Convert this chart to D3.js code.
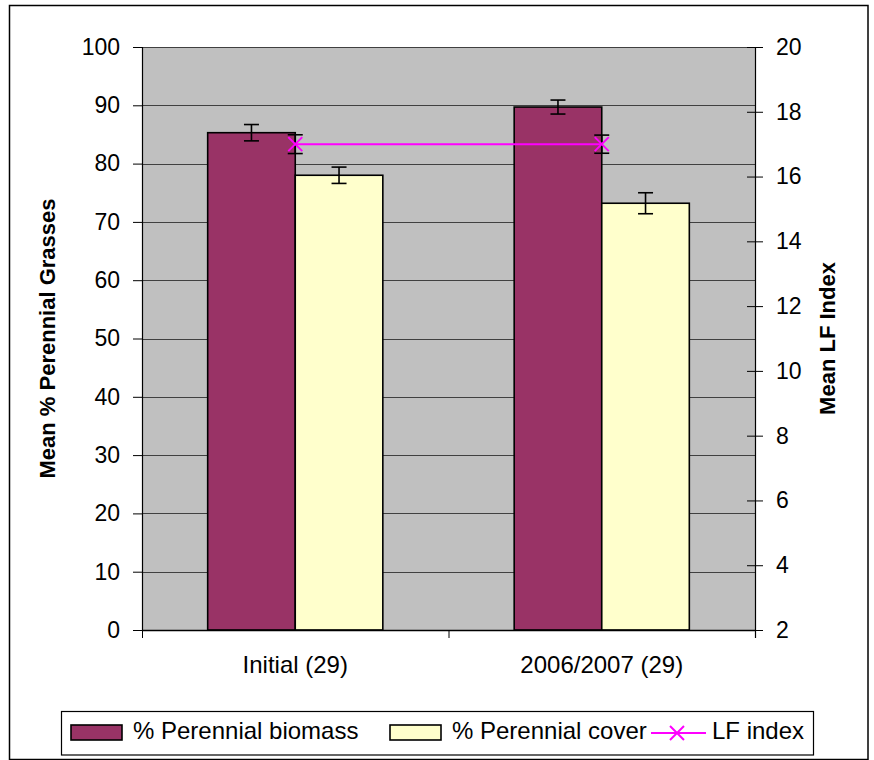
<!DOCTYPE html>
<html>
<head>
<meta charset="utf-8">
<script src="https://cdn.jsdelivr.net/npm/d3@7"></script>
<style>
  html, body { margin: 0; padding: 0; background: #fff; }
  svg { display: block; font-family: "Liberation Sans", Arial, sans-serif; }
</style>
</head>
<body>
<svg id="chart" width="874" height="760"></svg>
<script>
// ---- data ----
const categories = ["Initial (29)", "2006/2007 (29)"];
const seriesNames = ["% Perennial biomass", "% Perennial cover", "LF index"];
const biomass = [85.3, 89.7];
const biomassErr = [1.4, 1.2];
const cover = [78.0, 73.2];
const coverErr = [1.4, 1.8];
const lfIndex = [17.0, 17.0];
const lfErr = [0.29, 0.28];
const leftTicks = [0, 10, 20, 30, 40, 50, 60, 70, 80, 90, 100];
const rightTicks = [2, 4, 6, 8, 10, 12, 14, 16, 18, 20];

const colors = { biomass: "#993366", cover: "#FFFFCC", lf: "#FF00FF" };

const svg = d3.select("#chart");
const W = 874, H = 760;
const plot = { left: 142, right: 755, top: 47, bottom: 630 };

// outer frame
svg.append("rect").attr("x", 9.5).attr("y", 5.5).attr("width", 858.5).attr("height", 754)
  .attr("fill", "#fff").attr("stroke", "#000").attr("stroke-width", 1.5);

// scales
const x0 = d3.scaleBand().domain(categories).range([plot.left, plot.right]).padding(0);
const barKeys = ["biomass", "cover"];
const x1 = d3.scaleBand().domain(barKeys).range([0, x0.bandwidth()]).paddingInner(0).paddingOuter(0.75);
const yL = d3.scaleLinear().domain([0, 100]).range([plot.bottom, plot.top]);
const yR = d3.scaleLinear().domain([2, 20]).range([plot.bottom, plot.top]);

// plot background
svg.append("rect").attr("x", plot.left).attr("y", plot.top)
  .attr("width", plot.right - plot.left).attr("height", plot.bottom - plot.top)
  .attr("fill", "#C0C0C0");

// gridlines
svg.append("g").selectAll("line").data(leftTicks.filter(d => d > 0)).join("line")
  .attr("x1", plot.left).attr("x2", plot.right)
  .attr("y1", d => Math.round(yL(d)) + 0.5).attr("y2", d => Math.round(yL(d)) + 0.5)
  .attr("stroke", "#404040").attr("stroke-width", 1.2);

// bars
const rows = categories.map((c, i) => ({
  cat: c,
  bars: [
    { key: "biomass", v: biomass[i], e: biomassErr[i] },
    { key: "cover", v: cover[i], e: coverErr[i] }
  ]
}));

const gCat = svg.append("g").selectAll("g").data(rows).join("g")
  .attr("transform", d => `translate(${x0(d.cat)},0)`);

gCat.selectAll("rect").data(d => d.bars).join("rect")
  .attr("x", d => x1(d.key)).attr("width", x1.bandwidth())
  .attr("y", d => yL(d.v)).attr("height", d => yL(0) - yL(d.v))
  .attr("fill", d => colors[d.key]).attr("stroke", "#000").attr("stroke-width", 1.6);

// bar error bars
const capW = 15;
const eb = gCat.selectAll("g.err").data(d => d.bars).join("g").attr("class", "err");
eb.append("line")
  .attr("x1", d => x1(d.key) + x1.bandwidth() / 2).attr("x2", d => x1(d.key) + x1.bandwidth() / 2)
  .attr("y1", d => yL(d.v + d.e)).attr("y2", d => yL(d.v - d.e))
  .attr("stroke", "#000").attr("stroke-width", 1.6);
eb.selectAll("line.cap").data(d => [d.v + d.e, d.v - d.e].map(v => ({ key: d.key, v }))).join("line")
  .attr("class", "cap")
  .attr("x1", d => x1(d.key) + x1.bandwidth() / 2 - capW / 2)
  .attr("x2", d => x1(d.key) + x1.bandwidth() / 2 + capW / 2)
  .attr("y1", d => yL(d.v)).attr("y2", d => yL(d.v))
  .attr("stroke", "#000").attr("stroke-width", 1.6);

// LF index line
const lfPts = categories.map((c, i) => ({ x: x0(c) + x0.bandwidth() / 2, v: lfIndex[i], e: lfErr[i] }));
svg.append("path").datum(lfPts)
  .attr("d", d3.line().x(d => d.x).y(d => yR(d.v)))
  .attr("fill", "none").attr("stroke", colors.lf).attr("stroke-width", 2);

const lfG = svg.append("g").selectAll("g").data(lfPts).join("g");
lfG.append("line").attr("x1", d => d.x).attr("x2", d => d.x)
  .attr("y1", d => yR(d.v + d.e)).attr("y2", d => yR(d.v - d.e))
  .attr("stroke", "#000").attr("stroke-width", 1.6);
lfG.selectAll("line.cap").data(d => [d.v + d.e, d.v - d.e].map(v => ({ x: d.x, v }))).join("line")
  .attr("class", "cap")
  .attr("x1", d => d.x - capW / 2).attr("x2", d => d.x + capW / 2)
  .attr("y1", d => yR(d.v)).attr("y2", d => yR(d.v))
  .attr("stroke", "#000").attr("stroke-width", 1.6);
const ms = 7;
lfG.append("path")
  .attr("d", d => `M${d.x - ms},${yR(d.v) - ms}L${d.x + ms},${yR(d.v) + ms}M${d.x - ms},${yR(d.v) + ms}L${d.x + ms},${yR(d.v) - ms}`)
  .attr("stroke", colors.lf).attr("stroke-width", 2).attr("fill", "none");

// left axis
const axL = svg.append("g").attr("transform", `translate(${plot.left},0)`)
  .call(d3.axisLeft(yL).tickValues(leftTicks).tickSize(9).tickPadding(13).tickFormat(d3.format("d")));
axL.select(".domain").attr("stroke", "#000").attr("stroke-width", 1.2);
axL.selectAll(".tick line").attr("stroke", "#000");
axL.selectAll("text").attr("font-size", 23).attr("fill", "#000")
  .attr("font-family", "Liberation Sans, Arial, sans-serif");

// right axis (ticks cross the axis)
const axR = svg.append("g").attr("transform", `translate(${plot.right},0)`)
  .call(d3.axisRight(yR).tickValues(rightTicks).tickSize(8).tickPadding(13).tickFormat(d3.format("d")));
axR.select(".domain").attr("d", `M0.5,${plot.top}V${plot.bottom + 8}`).attr("stroke", "#000").attr("stroke-width", 1.2);
axR.selectAll(".tick line").attr("x1", -8).attr("stroke", "#000");
axR.selectAll("text").attr("font-size", 23).attr("fill", "#000")
  .attr("font-family", "Liberation Sans, Arial, sans-serif");

// bottom axis
const axB = svg.append("g").attr("transform", `translate(0,${plot.bottom})`);
axB.append("line").attr("x1", plot.left).attr("x2", plot.right).attr("y1", 0.5).attr("y2", 0.5)
  .attr("stroke", "#000").attr("stroke-width", 1.4);
const sepX = categories.map(c => x0(c)).concat([x0(categories[categories.length - 1]) + x0.bandwidth()]);
axB.selectAll("line.sep").data(sepX).join("line").attr("class", "sep")
  .attr("x1", d => d + 0.5).attr("x2", d => d + 0.5).attr("y1", 0).attr("y2", 8)
  .attr("stroke", "#000");
axB.selectAll("text").data(categories).join("text")
  .attr("x", d => x0(d) + x0.bandwidth() / 2).attr("y", 43)
  .attr("text-anchor", "middle").attr("font-size", 24).attr("fill", "#000")
  .text(d => d);

// axis titles
svg.append("text")
  .attr("transform", `translate(55,${(plot.top + plot.bottom) / 2}) rotate(-90)`)
  .attr("text-anchor", "middle").attr("font-size", 22).attr("font-weight", "bold")
  .text("Mean % Perennial Grasses");
svg.append("text")
  .attr("transform", `translate(835,${(plot.top + plot.bottom) / 2}) rotate(-90)`)
  .attr("text-anchor", "middle").attr("font-size", 22).attr("font-weight", "bold")
  .text("Mean LF Index");

// legend
const lg = svg.append("g");
lg.append("rect").attr("x", 61.5).attr("y", 711.5).attr("width", 752).attr("height", 43.5)
  .attr("fill", "#fff").attr("stroke", "#000").attr("stroke-width", 1.2);
const legendY = 739;
const items = [
  { name: seriesNames[0], type: "bar", color: colors.biomass, sx: 71, tx: 133 },
  { name: seriesNames[1], type: "bar", color: colors.cover, sx: 390, tx: 452 },
  { name: seriesNames[2], type: "line", color: colors.lf, sx: 651, tx: 712 }
];
items.forEach(it => {
  if (it.type === "bar") {
    lg.append("rect").attr("x", it.sx).attr("y", 725).attr("width", 51).attr("height", 15)
      .attr("fill", it.color).attr("stroke", "#000").attr("stroke-width", 1.6);
  } else {
    lg.append("line").attr("x1", it.sx).attr("x2", it.sx + 55).attr("y1", 733).attr("y2", 733)
      .attr("stroke", it.color).attr("stroke-width", 2);
    const cx = it.sx + 26;
    lg.append("path").attr("d", `M${cx - 7},726L${cx + 7},740M${cx - 7},740L${cx + 7},726`)
      .attr("stroke", it.color).attr("stroke-width", 2);
  }
  lg.append("text").attr("x", it.tx).attr("y", legendY).attr("font-size", 24).attr("fill", "#000")
    .text(it.name);
});
</script>
</body>
</html>
